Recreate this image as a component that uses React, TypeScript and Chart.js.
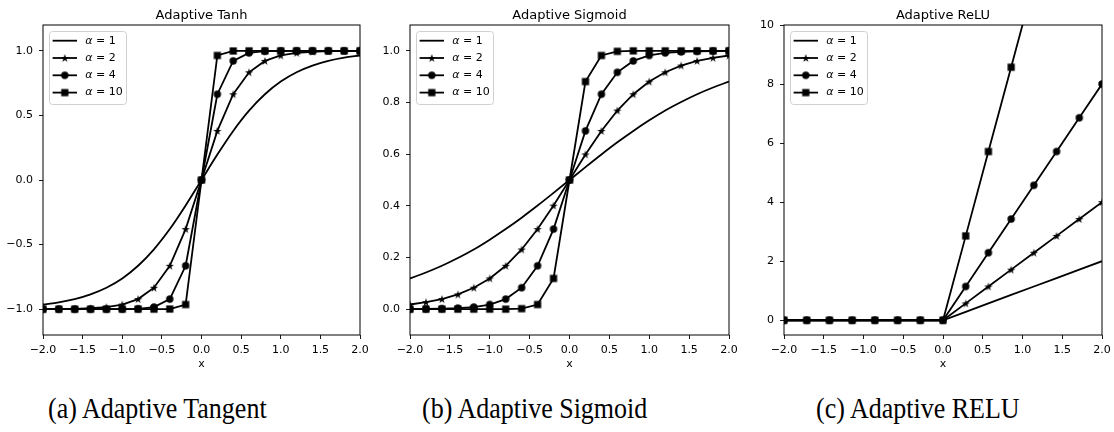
import React, { useEffect, useRef } from 'react';
import { Chart, registerables } from 'chart.js';

Chart.register(...registerables);

// ---------------- data ----------------
const alphaValues = [1, 2, 4, 10];

const xs21 = [-2.0, -1.8, -1.6, -1.4, -1.2, -1.0, -0.8, -0.6, -0.4, -0.2, 0.0, 0.2, 0.4, 0.6, 0.8, 1.0, 1.2, 1.4, 1.6, 1.8, 2.0];

const tanhA1 = [-0.964, -0.947, -0.922, -0.885, -0.834, -0.762, -0.664, -0.537, -0.380, -0.197, 0.0, 0.197, 0.380, 0.537, 0.664, 0.762, 0.834, 0.885, 0.922, 0.947, 0.964];
const tanhA2 = [-0.999, -0.998, -0.997, -0.993, -0.984, -0.964, -0.922, -0.834, -0.664, -0.380, 0.0, 0.380, 0.664, 0.834, 0.922, 0.964, 0.984, 0.993, 0.997, 0.998, 0.999];
const tanhA4 = [-1.0, -1.0, -1.0, -1.0, -1.0, -0.999, -0.997, -0.984, -0.922, -0.664, 0.0, 0.664, 0.922, 0.984, 0.997, 0.999, 1.0, 1.0, 1.0, 1.0, 1.0];
const tanhA10 = [-1.0, -1.0, -1.0, -1.0, -1.0, -1.0, -1.0, -1.0, -0.999, -0.964, 0.0, 0.964, 0.999, 1.0, 1.0, 1.0, 1.0, 1.0, 1.0, 1.0, 1.0];

const sigA1 = [0.119, 0.142, 0.168, 0.198, 0.231, 0.269, 0.310, 0.354, 0.401, 0.450, 0.5, 0.550, 0.599, 0.646, 0.690, 0.731, 0.769, 0.802, 0.832, 0.858, 0.881];
const sigA2 = [0.018, 0.027, 0.039, 0.057, 0.083, 0.119, 0.168, 0.231, 0.310, 0.401, 0.5, 0.599, 0.690, 0.769, 0.832, 0.881, 0.917, 0.943, 0.961, 0.973, 0.982];
const sigA4 = [0.000, 0.001, 0.002, 0.004, 0.008, 0.018, 0.039, 0.083, 0.168, 0.310, 0.5, 0.690, 0.832, 0.917, 0.961, 0.982, 0.992, 0.996, 0.998, 0.999, 1.0];
const sigA10 = [0.0, 0.0, 0.0, 0.0, 0.0, 0.0, 0.0, 0.002, 0.018, 0.119, 0.5, 0.881, 0.982, 0.998, 1.0, 1.0, 1.0, 1.0, 1.0, 1.0, 1.0];

const xs15 = [-2.0, -1.714, -1.429, -1.143, -0.857, -0.571, -0.286, 0.0, 0.286, 0.571, 0.857, 1.143, 1.429, 1.714, 2.0];
const reluA1 = [0, 0, 0, 0, 0, 0, 0, 0, 0.286, 0.571, 0.857, 1.143, 1.429, 1.714, 2.0];
const reluA2 = [0, 0, 0, 0, 0, 0, 0, 0, 0.571, 1.143, 1.714, 2.286, 2.857, 3.429, 4.0];
const reluA4 = [0, 0, 0, 0, 0, 0, 0, 0, 1.143, 2.286, 3.429, 4.571, 5.714, 6.857, 8.0];
const reluA10 = [0, 0, 0, 0, 0, 0, 0, 0, 2.857, 5.714, 8.571, 11.43, 14.29, 17.14, 20.0];

const xTicks = [-2.0, -1.5, -1.0, -0.5, 0.0, 0.5, 1.0, 1.5, 2.0];
const tanhYTicks = [-1.0, -0.5, 0.0, 0.5, 1.0];
const sigYTicks = [0.0, 0.2, 0.4, 0.6, 0.8, 1.0];
const reluYTicks = [0, 2, 4, 6, 8, 10];

const titles = ['Adaptive Tanh', 'Adaptive Sigmoid', 'Adaptive ReLU'];
const captions = ['(a) Adaptive Tangent', '(b) Adaptive Sigmoid', '(c) Adaptive RELU'];

// ---------------- styling / layout ----------------
const FONT = '"DejaVu Sans", "Noto Sans", sans-serif';
const H = 380;
const LW = 1.8;

const panels = [
  { key: 'tanh', left: 0, width: 372, axisW: 43, padRight: 12, xs: xs21, series: [tanhA1, tanhA2, tanhA4, tanhA10], yMin: -1.2, yMax: 1.2, yTicks: tanhYTicks, yDec: 1, smoothFirst: true, captionLeft: 48 },
  { key: 'sig', left: 372, width: 370, axisW: 38, padRight: 13, xs: xs21, series: [sigA1, sigA2, sigA4, sigA10], yMin: -0.1, yMax: 1.1, yTicks: sigYTicks, yDec: 1, smoothFirst: true, captionLeft: 422 },
  { key: 'relu', left: 742, width: 372, axisW: 42, padRight: 12, xs: xs15, series: [reluA1, reluA2, reluA4, reluA10], yMin: -0.5, yMax: 10, yTicks: reluYTicks, yDec: 0, smoothFirst: false, captionLeft: 816 },
];

function fmt(v: number, dec: number) {
  return v.toFixed(dec).replace('-', '\u2212');
}

function makeMarker(kind: string): HTMLCanvasElement | false {
  if (kind === 'none') return false;
  const c = document.createElement('canvas');
  const s = 10;
  c.width = s;
  c.height = s;
  const g = c.getContext('2d')!;
  g.fillStyle = '#000';
  const cx = s / 2, cy = s / 2;
  if (kind === 'square') {
    g.fillRect(cx - 3.6, cy - 3.6, 7.2, 7.2);
  } else if (kind === 'circle') {
    g.beginPath();
    g.arc(cx, cy, 3.7, 0, Math.PI * 2);
    g.fill();
  } else if (kind === 'star') {
    const R = 4.3, r = R * 0.382;
    g.beginPath();
    for (let i = 0; i < 10; i++) {
      const rad = i % 2 === 0 ? R : r;
      const ang = -Math.PI / 2 + (i * Math.PI) / 5;
      const px = cx + rad * Math.cos(ang);
      const py = cy + 0.4 + rad * Math.sin(ang);
      if (i === 0) g.moveTo(px, py); else g.lineTo(px, py);
    }
    g.closePath();
    g.fill();
  }
  return c;
}

const decor = {
  id: 'decor',
  afterDraw(chart: any) {
    const { ctx, chartArea: a } = chart;
    const o = chart.options.plugins.decor;
    ctx.save();
    // frame
    ctx.strokeStyle = '#000';
    ctx.lineWidth = 1;
    ctx.strokeRect(a.left, a.top, a.right - a.left, a.bottom - a.top);
    // title
    const cx = (a.left + a.right) / 2;
    ctx.fillStyle = '#000';
    ctx.font = `13px ${FONT}`;
    ctx.textAlign = 'center';
    ctx.textBaseline = 'alphabetic';
    ctx.fillText(o.title, cx, 19);
    // x label
    ctx.font = `11px ${FONT}`;
    ctx.fillText('x', cx, a.bottom + 32);
    // legend
    const lx = a.left + 6, ly = a.top + 6, lw = 77, lh = 73;
    ctx.beginPath();
    if (ctx.roundRect) ctx.roundRect(lx + 0.5, ly + 0.5, lw, lh, 3);
    else ctx.rect(lx + 0.5, ly + 0.5, lw, lh);
    ctx.fillStyle = 'rgba(255,255,255,0.8)';
    ctx.fill();
    ctx.strokeStyle = '#d0d0d0';
    ctx.lineWidth = 1;
    ctx.stroke();
    chart.data.datasets.forEach((ds: any, i: number) => {
      const y = a.top + 15.7 + i * 17.3;
      ctx.strokeStyle = '#000';
      ctx.lineWidth = LW;
      ctx.beginPath();
      ctx.moveTo(a.left + 9.6, y);
      ctx.lineTo(a.left + 34, y);
      ctx.stroke();
      const m = ds.pointStyle;
      if (m && typeof m === 'object') {
        ctx.drawImage(m, a.left + 21.8 - m.width / 2, y - m.height / 2);
      }
      ctx.fillStyle = '#000';
      ctx.textAlign = 'left';
      ctx.textBaseline = 'middle';
      const tx = a.left + 42.3;
      ctx.font = `italic 11px ${FONT}`;
      ctx.fillText('\u03b1', tx, y);
      const w = ctx.measureText('\u03b1').width;
      ctx.font = `11px ${FONT}`;
      ctx.fillText(' = ' + alphaValues[i], tx + w, y);
    });
    ctx.restore();
  },
};

function Panel({ p, idx }: { p: any; idx: number }) {
  const ref = useRef<HTMLCanvasElement>(null);
  useEffect(() => {
    const markers = ['none', 'star', 'circle', 'square'].map(makeMarker);
    const datasets = p.series.map((ys: number[], i: number) => ({
      label: `\u03b1 = ${alphaValues[i]}`,
      data: p.xs.map((x: number, j: number) => ({ x, y: ys[j] })),
      borderColor: '#000',
      backgroundColor: '#000',
      borderWidth: LW,
      pointStyle: markers[i] || 'circle',
      pointRadius: i === 0 ? 0 : 4,
      pointHoverRadius: i === 0 ? 0 : 4,
      cubicInterpolationMode: i === 0 && p.smoothFirst ? 'monotone' : 'default',
      tension: 0,
      fill: false,
      order: 4 - i,
    }));
    const tickFont = { family: FONT, size: 11 };
    const chart = new Chart(ref.current!, {
      type: 'line',
      data: { datasets },
      plugins: [decor],
      options: {
        animation: false,
        responsive: false,
        events: [],
        layout: { padding: { left: 0, top: 25, right: p.padRight, bottom: 0 } },
        scales: {
          x: {
            type: 'linear',
            min: -2,
            max: 2,
            afterBuildTicks: (ax: any) => { ax.ticks = xTicks.map((v) => ({ value: v })); },
            afterFit: (ax: any) => { ax.height = H - 335; ax.paddingLeft = 0; ax.paddingRight = 0; },
            ticks: { callback: (v: any) => fmt(Number(v), 1), font: tickFont, color: '#000', padding: 4.5, maxRotation: 0, autoSkip: false },
            grid: { drawOnChartArea: false, drawTicks: true, tickLength: 4, color: '#000', lineWidth: 0.9 },
            border: { display: false },
          },
          y: {
            type: 'linear',
            min: p.yMin,
            max: p.yMax,
            afterBuildTicks: (ax: any) => { ax.ticks = p.yTicks.map((v: number) => ({ value: v })); },
            afterFit: (ax: any) => { ax.width = p.axisW; ax.paddingTop = 0; ax.paddingBottom = 0; },
            ticks: { callback: (v: any) => fmt(Number(v), p.yDec), font: tickFont, color: '#000', padding: 6, autoSkip: false },
            grid: { drawOnChartArea: false, drawTicks: true, tickLength: 4, color: '#000', lineWidth: 0.9 },
            border: { display: false },
          },
        },
        plugins: {
          legend: { display: false },
          tooltip: { enabled: false },
          title: { display: false },
          decor: { title: titles[idx] },
        } as any,
      },
    } as any);
    return () => chart.destroy();
  }, []);
  return (
    <canvas
      ref={ref}
      width={p.width}
      height={H}
      style={{ position: 'absolute', left: p.left, top: 0, width: p.width, height: H, display: 'block' }}
    />
  );
}

export default function App() {
  return (
    <div style={{ position: 'absolute', left: 0, top: 0, width: 1114, height: 432, background: '#fff', overflow: 'hidden' }}>
      {panels.map((p, i) => (
        <Panel key={p.key} p={p} idx={i} />
      ))}
      {panels.map((p, i) => (
        <div
          key={'c' + i}
          style={{
            position: 'absolute',
            left: p.captionLeft,
            top: 397,
            fontFamily: '"Liberation Serif", "Times New Roman", serif',
            fontSize: 26,
            lineHeight: '26px',
            color: '#000',
            whiteSpace: 'nowrap',
            transform: 'scaleY(1.12)',
            transformOrigin: '0 22px',
          }}
        >
          {captions[i]}
        </div>
      ))}
    </div>
  );
}
